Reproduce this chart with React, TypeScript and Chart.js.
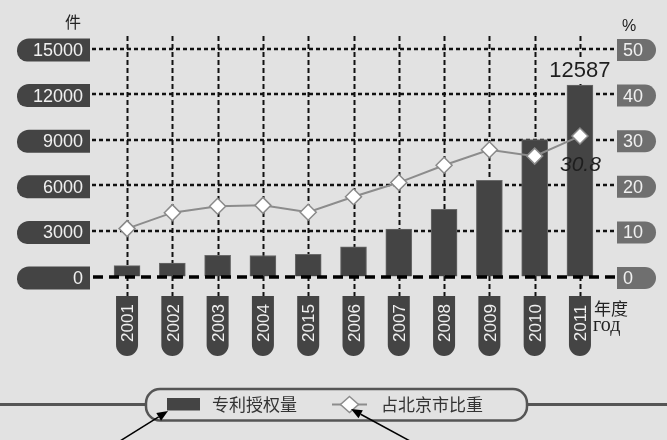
import { useEffect, useRef } from "react";
import { Chart, registerables } from "chart.js";

Chart.register(...registerables);

const years = ["2001", "2002", "2003", "2004", "2015", "2006", "2007", "2008", "2009", "2010", "2011"];
const patents = [716, 886, 1392, 1380, 1457, 1956, 3118, 4411, 6335, 9007, 12587];
const shares = [10.5, 14.0, 15.4, 15.6, 14.1, 17.5, 20.6, 24.4, 27.8, 26.4, 30.8];
const leftTicks = [0, 3000, 6000, 9000, 12000, 15000];
const rightTicks = [0, 10, 20, 30, 40, 50];
const leftUnit = "件";
const rightUnit = "%";
const xUnit = ["年度", "год"];
const legendLabels = ["专利授权量", "占北京市比重"];
const barLabel = "12587";
const lineLabel = "30.8";

const SANS = '"Liberation Sans", Arial, sans-serif';
const CJK = '"Noto Sans CJK SC", "Noto Sans", sans-serif';
const SERIF = '"Liberation Serif", "DejaVu Serif", serif';
const BG = "#e2e2e2";
const DARK = "#444444";
const MID = "#6f6f6f";
const LINE = "#8c8c8c";

function arrow(ctx: CanvasRenderingContext2D, x1: number, y1: number, x2: number, y2: number) {
  ctx.save();
  ctx.strokeStyle = "#000";
  ctx.fillStyle = "#000";
  ctx.lineWidth = 1.5;
  ctx.setLineDash([]);
  const a = Math.atan2(y2 - y1, x2 - x1);
  const len = 11;
  const w = 4.5;
  const bx = x2 - Math.cos(a) * len;
  const by = y2 - Math.sin(a) * len;
  ctx.beginPath();
  ctx.moveTo(x1, y1);
  ctx.lineTo(bx, by);
  ctx.stroke();
  ctx.beginPath();
  ctx.moveTo(x2, y2);
  ctx.lineTo(bx + Math.sin(a) * w, by - Math.cos(a) * w);
  ctx.lineTo(bx - Math.sin(a) * w, by + Math.cos(a) * w);
  ctx.closePath();
  ctx.fill();
  ctx.restore();
}

const decorPlugin = {
  id: "decor",
  beforeDraw(chart: any) {
    const ctx: CanvasRenderingContext2D = chart.ctx;
    ctx.save();
    ctx.fillStyle = BG;
    ctx.fillRect(0, 0, chart.width, chart.height);
    ctx.restore();
  },
  beforeDatasetsDraw(chart: any) {
    const ctx: CanvasRenderingContext2D = chart.ctx;
    const xs = chart.scales.x;
    const ys = chart.scales.y;
    const yr = chart.scales.y1;
    const last = years.length - 1;
    ctx.save();
    ctx.strokeStyle = "#111";
    ctx.lineWidth = 2;
    ctx.setLineDash([5, 3]);
    years.forEach((_, i) => {
      const x = Math.round(xs.getPixelForValue(i)) + 0.5;
      ctx.beginPath();
      ctx.moveTo(x, 36);
      ctx.lineTo(x, 296);
      ctx.stroke();
    });
    ctx.lineWidth = 2.5;
    ctx.setLineDash([4, 3]);
    leftTicks.forEach((v) => {
      if (v === 0) return;
      const y = Math.round(ys.getPixelForValue(v));
      ctx.beginPath();
      ctx.moveTo(92, y);
      ctx.lineTo(616, y);
      ctx.stroke();
    });
    ctx.setLineDash([]);
    // background behind the bar value label
    const lx = xs.getPixelForValue(last);
    const ly = ys.getPixelForValue(patents[last]) - 8;
    ctx.fillStyle = BG;
    ctx.fillRect(lx - 32, ly - 19, 64, 23);
    ctx.textBaseline = "middle";
    leftTicks.forEach((v) => {
      const y = ys.getPixelForValue(v) + 1.5;
      ctx.fillStyle = DARK;
      ctx.beginPath();
      (ctx as any).roundRect(17, y - 11.5, 73, 23, [12, 0, 0, 10]);
      ctx.fill();
      ctx.fillStyle = "#f0f0f0";
      ctx.font = `18px ${SANS}`;
      ctx.textAlign = "right";
      ctx.fillText(String(v), 83, y + 1);
    });
    rightTicks.forEach((v) => {
      const y = yr.getPixelForValue(v) + 1.5;
      ctx.fillStyle = MID;
      ctx.beginPath();
      (ctx as any).roundRect(617, y - 11, 39, 22, [0, 11, 11, 0]);
      ctx.fill();
      ctx.fillStyle = "#f0f0f0";
      ctx.font = `18px ${SANS}`;
      ctx.textAlign = "left";
      ctx.fillText(String(v), 623, y + 1);
    });
    years.forEach((yv, i) => {
      const x = xs.getPixelForValue(i);
      ctx.fillStyle = DARK;
      ctx.beginPath();
      (ctx as any).roundRect(x - 11, 296, 22, 60, [0, 0, 11, 11]);
      ctx.fill();
      ctx.save();
      ctx.translate(x + 0.5, 323);
      ctx.rotate(-Math.PI / 2);
      ctx.fillStyle = "#f0f0f0";
      ctx.font = `17px ${SANS}`;
      ctx.textAlign = "center";
      ctx.textBaseline = "middle";
      ctx.fillText(yv, 0, 1);
      ctx.restore();
    });
    ctx.fillStyle = "#222";
    ctx.textAlign = "center";
    ctx.textBaseline = "middle";
    ctx.font = `16px ${CJK}`;
    ctx.fillText(leftUnit, 73, 22);
    ctx.font = `16px ${SANS}`;
    ctx.fillText(rightUnit, 629, 27);
    ctx.textAlign = "left";
    ctx.font = `17px ${CJK}`;
    ctx.fillText(xUnit[0], 594, 309);
    ctx.font = `20px ${SERIF}`;
    ctx.fillText(xUnit[1], 593, 326);
    ctx.restore();
  },
  afterDatasetDraw(chart: any, args: any) {
    if (args.index !== 0) return;
    const ctx: CanvasRenderingContext2D = chart.ctx;
    const ys = chart.scales.y;
    const y = Math.round(ys.getPixelForValue(0));
    ctx.save();
    ctx.strokeStyle = "#000";
    ctx.lineWidth = 3.5;
    ctx.setLineDash([10, 6]);
    ctx.beginPath();
    ctx.moveTo(93, y);
    ctx.lineTo(617, y);
    ctx.stroke();
    ctx.restore();
  },
  afterDatasetsDraw(chart: any) {
    const ctx: CanvasRenderingContext2D = chart.ctx;
    const xs = chart.scales.x;
    const ys = chart.scales.y;
    const yr = chart.scales.y1;
    const last = years.length - 1;
    ctx.save();
    ctx.fillStyle = "#1e1e1e";
    ctx.textAlign = "center";
    ctx.textBaseline = "alphabetic";
    ctx.font = `22px ${SANS}`;
    ctx.fillText(barLabel, xs.getPixelForValue(last), ys.getPixelForValue(patents[last]) - 8);
    ctx.font = `italic 21px ${SANS}`;
    ctx.textAlign = "left";
    ctx.fillText(lineLabel, 560, yr.getPixelForValue(shares[last]) + 35);
    ctx.restore();
  },
  afterDraw(chart: any) {
    const ctx: CanvasRenderingContext2D = chart.ctx;
    ctx.save();
    ctx.setLineDash([]);
    ctx.strokeStyle = "#555";
    ctx.lineWidth = 3;
    ctx.beginPath();
    ctx.moveTo(0, 404.5);
    ctx.lineTo(146, 404.5);
    ctx.moveTo(527, 404.5);
    ctx.lineTo(667, 404.5);
    ctx.stroke();
    ctx.lineWidth = 2.5;
    ctx.beginPath();
    (ctx as any).roundRect(146, 389, 381, 31.5, 14);
    ctx.stroke();
    ctx.fillStyle = DARK;
    ctx.fillRect(167, 398, 33, 12.5);
    ctx.fillStyle = "#333";
    ctx.font = `17px ${CJK}`;
    ctx.textAlign = "left";
    ctx.textBaseline = "middle";
    ctx.fillText(legendLabels[0], 212, 405);
    ctx.strokeStyle = LINE;
    ctx.lineWidth = 2;
    ctx.beginPath();
    ctx.moveTo(332, 404.5);
    ctx.lineTo(367, 404.5);
    ctx.stroke();
    ctx.beginPath();
    ctx.moveTo(349.5, 396.5);
    ctx.lineTo(358.5, 404.5);
    ctx.lineTo(349.5, 412.5);
    ctx.lineTo(340.5, 404.5);
    ctx.closePath();
    ctx.fillStyle = "#fff";
    ctx.fill();
    ctx.lineWidth = 1.5;
    ctx.stroke();
    ctx.fillStyle = "#333";
    ctx.fillText(legendLabels[1], 381, 405);
    ctx.restore();
    arrow(ctx, 120, 441, 168, 411);
    arrow(ctx, 410, 441, 351, 409);
  },
};

export default function App() {
  const ref = useRef<HTMLCanvasElement>(null);
  useEffect(() => {
    if (!ref.current) return;
    const chart = new Chart(ref.current, {
      type: "bar",
      data: {
        labels: years,
        datasets: [
          {
            type: "bar",
            label: legendLabels[0],
            data: patents,
            yAxisID: "y",
            backgroundColor: DARK,
            borderColor: "#6a6a6a",
            borderWidth: 1,
            barThickness: 26,
            order: 2,
          } as any,
          {
            type: "line",
            label: legendLabels[1],
            data: shares,
            yAxisID: "y1",
            borderColor: LINE,
            borderWidth: 2,
            pointStyle: "rectRot",
            pointRadius: 8,
            pointBackgroundColor: "#ffffff",
            pointBorderColor: "#8a8a8a",
            pointBorderWidth: 1.5,
            tension: 0,
            order: 1,
          } as any,
        ],
      },
      options: {
        animation: false,
        responsive: false,
        devicePixelRatio: 1,
        layout: { padding: { left: 104.4, right: 64.4, top: 48.5, bottom: 163.5 } },
        plugins: { legend: { display: false }, tooltip: { enabled: false } },
        scales: {
          x: { display: false, offset: true },
          y: { display: false, min: 0, max: 15000 },
          y1: { display: false, position: "right", min: 0, max: 50 },
        },
      },
      plugins: [decorPlugin],
    });
    return () => chart.destroy();
  }, []);
  return (
    <div style={{ position: "fixed", left: 0, top: 0, width: 667, height: 440, background: BG }}>
      <canvas ref={ref} width={667} height={440} style={{ display: "block" }} />
    </div>
  );
}
